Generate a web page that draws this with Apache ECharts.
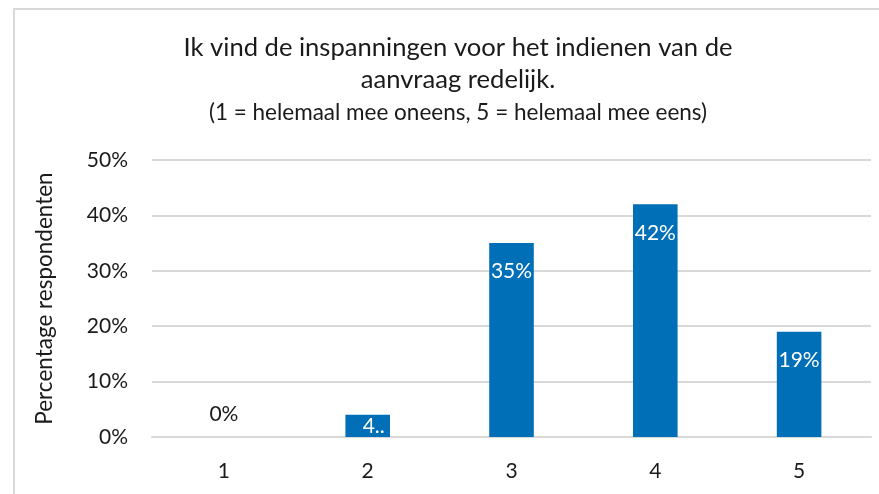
<!DOCTYPE html>
<html>
<head>
<meta charset="utf-8">
<script src="https://cdn.jsdelivr.net/npm/echarts@6/dist/echarts.min.js"></script>
<style>
  html, body { margin: 0; padding: 0; background: #fff; }
  #chart { width: 879px; height: 494px; }
</style>
</head>
<body>
<div id="chart"></div>
<script>
// data
var categories = ['1', '2', '3', '4', '5'];
var values = [0, 4, 35, 42, 19];
var labelTexts = ['0%', '4..', '35%', '42%', '19%'];
var yTicks = [0, 10, 20, 30, 40, 50];

var FONT = 'Lato';
var barColor = '#006fb8';
var txt = '#1a1a1a';

var chart = echarts.init(document.getElementById('chart'));

// per-bar label placement (0 sits above, tiny bar gets clipped text)
var seriesData = [];
for (var i = 0; i < values.length; i++) {
    var item = { value: values[i] };
    if (values[i] === 0) {
        item.label = { position: 'top', distance: 12, color: txt };
    } else if (values[i] < 8) {
        item.label = { position: 'insideBottom', distance: 0, offset: [6, 0] };
    }
    seriesData.push(item);
}

chart.setOption({
    animation: false,
    textStyle: { fontFamily: FONT },
    title: [
        {
            text: 'Ik vind de inspanningen voor het indienen van de\naanvraag redelijk.',
            left: 458,
            textAlign: 'center',
            top: 32,
            padding: 0,
            textStyle: { fontFamily: FONT, fontSize: 25.6, fontWeight: 'normal', color: txt, lineHeight: 32 }
        },
        {
            text: '(1 = helemaal mee oneens, 5 = helemaal mee eens)',
            left: 458,
            textAlign: 'center',
            top: 100,
            padding: 0,
            textStyle: { fontFamily: FONT, fontSize: 22.5, fontWeight: 'normal', color: txt, lineHeight: 26 }
        }
    ],
    graphic: [
        {
            type: 'rect',
            shape: { x: 14, y: 9, width: 900, height: 520 },
            style: { fill: 'none', stroke: '#d9d9d9', lineWidth: 2 },
            silent: true
        }
    ],
    grid: { left: 152, right: 8, top: 160, bottom: 57 },
    xAxis: {
        type: 'category',
        data: categories,
        axisLine: { show: true, lineStyle: { color: '#d9d9d9', width: 2 } },
        axisTick: { show: false },
        axisLabel: { color: txt, fontSize: 21, fontFamily: FONT, margin: 24 }
    },
    yAxis: {
        type: 'value',
        min: yTicks[0],
        max: yTicks[yTicks.length - 1],
        interval: 10,
        name: 'Percentage respondenten',
        nameLocation: 'middle',
        nameGap: 96,
        nameTextStyle: { color: txt, fontSize: 22.5, fontFamily: FONT },
        axisLine: { show: false },
        axisTick: { show: false },
        axisLabel: { color: txt, fontSize: 21, fontFamily: FONT, margin: 24, formatter: '{value}%' },
        splitLine: { lineStyle: { color: '#d9d9d9', width: 2 } }
    },
    series: [
        {
            type: 'bar',
            data: seriesData,
            barWidth: '31%',
            itemStyle: { color: barColor },
            label: {
                show: true,
                position: 'insideTop',
                distance: 18,
                color: '#fff',
                fontSize: 21,
                fontFamily: FONT,
                formatter: function (p) { return labelTexts[p.dataIndex]; }
            }
        }
    ]
});
</script>
</body>
</html>
